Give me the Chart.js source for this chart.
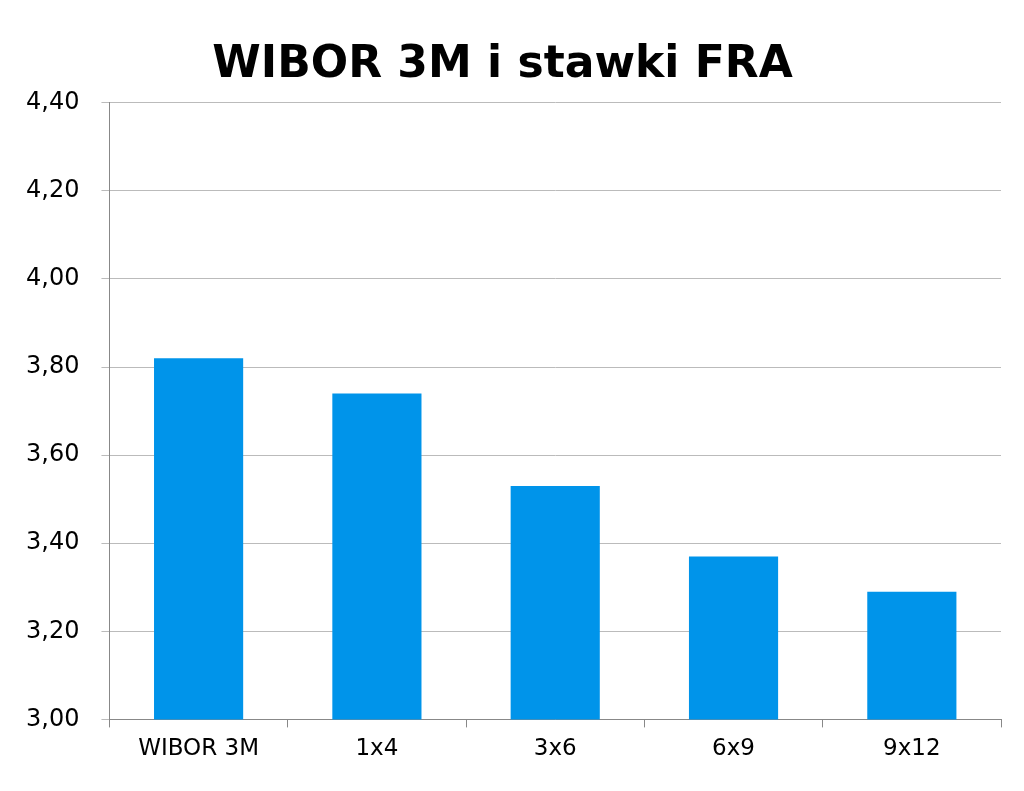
<!DOCTYPE html>
<html><head><meta charset="utf-8">
<script src="https://cdn.jsdelivr.net/npm/chart.js@4/dist/chart.umd.min.js"></script>
<style>html,body{margin:0;padding:0;background:#fff}#w{width:1024px;height:791px}</style>
</head><body><div id="w"><canvas id="c"></canvas></div>
<script>
const categories = ["WIBOR 3M", "1x4", "3x6", "6x9", "9x12"];
const values = [3.82, 3.74, 3.53, 3.37, 3.29];
const titleText = "WIBOR 3M i stawki FRA";
new Chart(document.getElementById('c'), {
  type: 'bar',
  data: { labels: categories, datasets: [{ data: values, backgroundColor: '#0094EA', barPercentage: 0.5, categoryPercentage: 1 }] },
  options: {
    responsive: true, maintainAspectRatio: false, animation: false,
    layout: { padding: { left: 4, right: 23, top: 0, bottom: 20 } },
    plugins: {
      legend: { display: false }, tooltip: { enabled: false },
      title: { display: true, text: titleText, color: '#000', font: { family: 'DejaVu Sans', size: 44, weight: 'bold' }, padding: { top: 39, bottom: 11 } }
    },
    scales: {
      x: { grid: { display: true, drawOnChartArea: false, color: '#888', tickLength: 8, offset: true }, border: { color: '#888' },
           ticks: { color: '#000', font: { family: 'DejaVu Sans', size: 23 }, padding: 8 } },
      y: { min: 3, max: 4.4, grid: { color: '#bbb', tickLength: 8 }, border: { color: '#888' },
           ticks: { stepSize: 0.2, color: '#000', font: { family: 'DejaVu Sans', size: 24 }, padding: 22,
                    callback: v => v.toFixed(2).replace('.', ',') } }
    }
  }
});
</script></body></html>
